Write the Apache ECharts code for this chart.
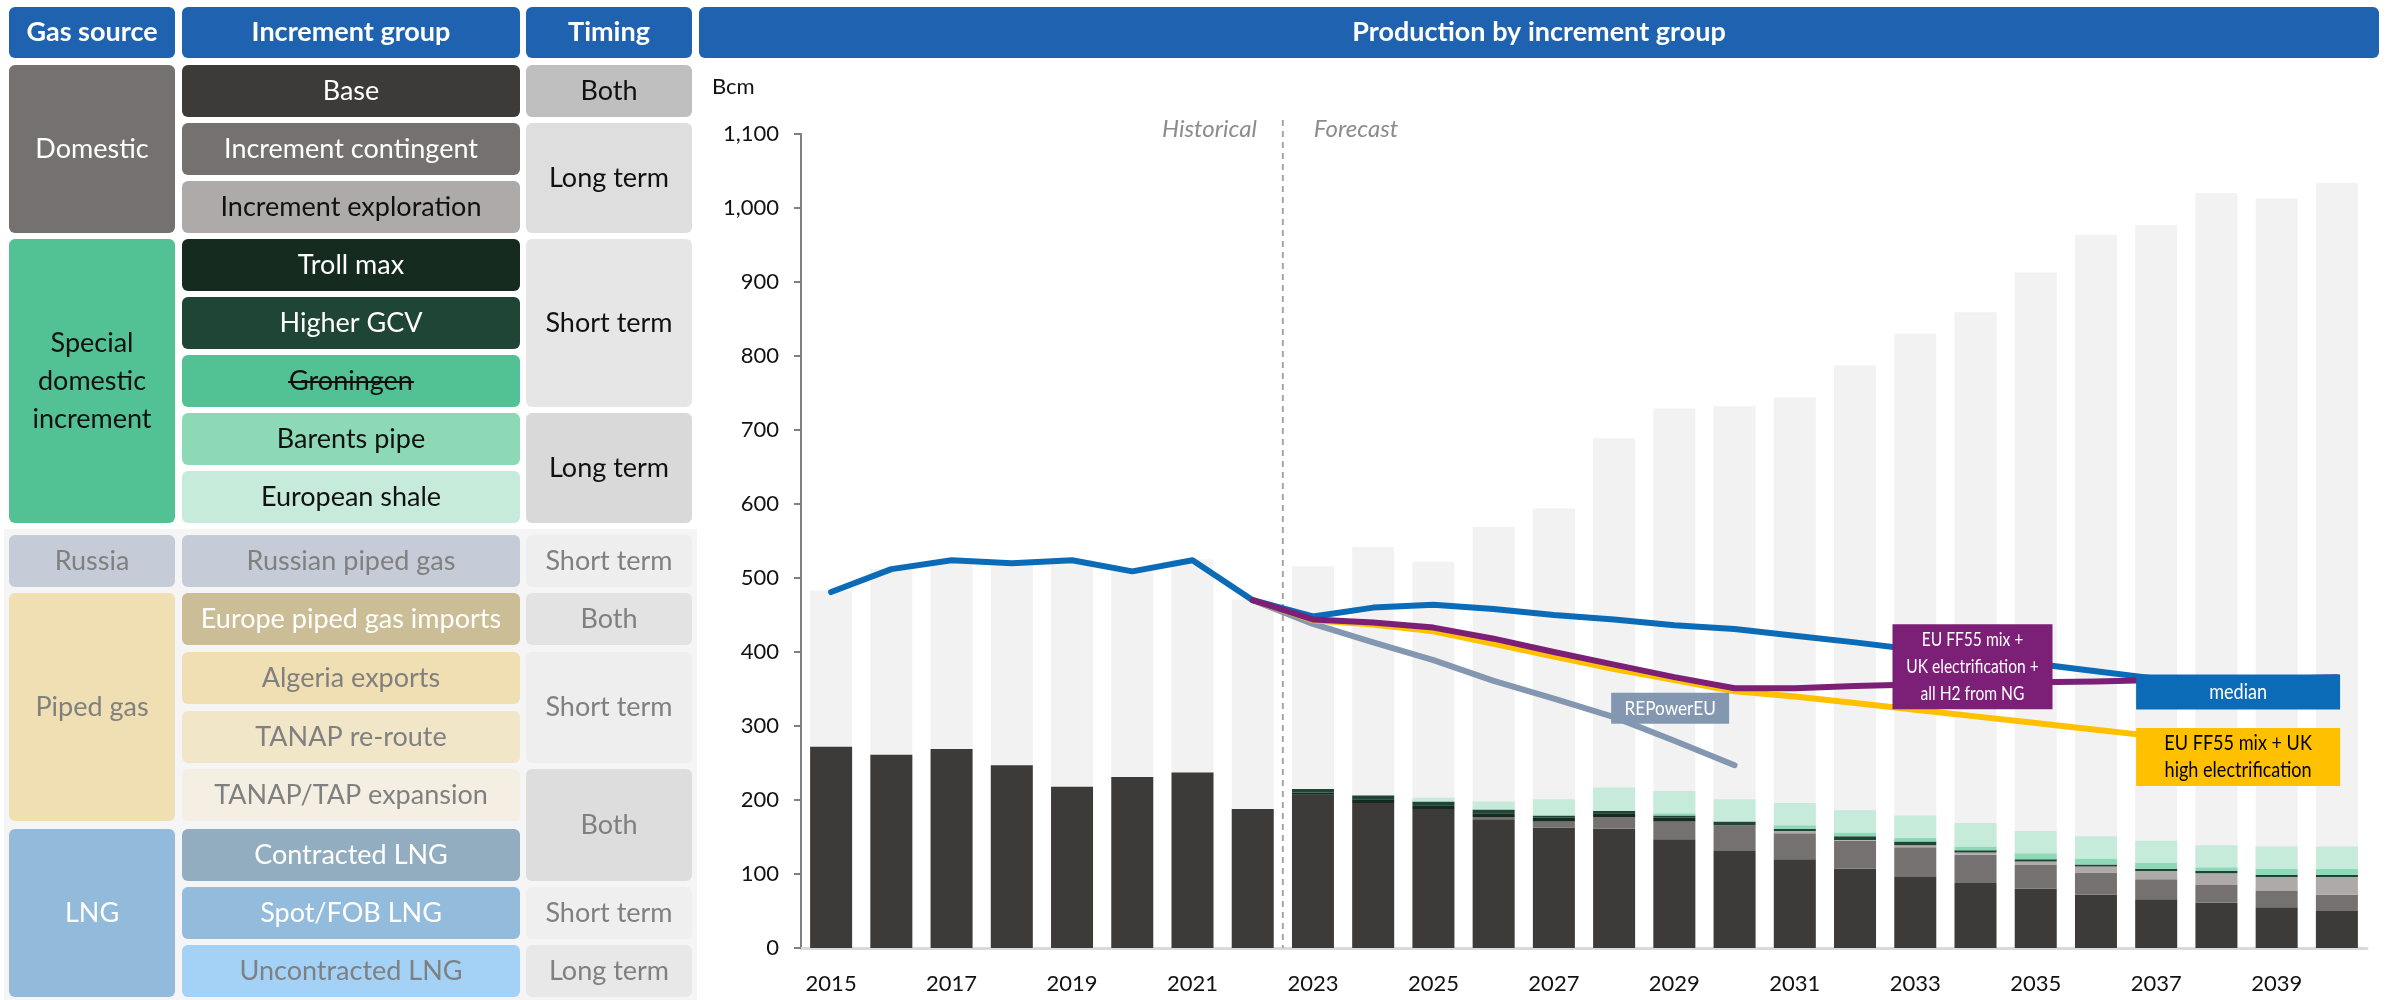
<!DOCTYPE html>
<html><head><meta charset="utf-8">
<script src="https://cdn.jsdelivr.net/npm/echarts@6/dist/echarts.min.js"></script>
<style>html,body{margin:0;padding:0;background:#fff}#c{width:2387px;height:1000px}</style>
</head><body><div id="c"></div>
<script>
// ---------------- DATA ----------------
const years = ['2015','2016','2017','2018','2019','2020','2021','2022','2023','2024','2025','2026','2027','2028','2029','2030','2031','2032','2033','2034','2035','2036','2037','2038','2039','2040'];
const totalSupply    = [483,512,524,520,524,512,525,471,516,542,522,569,594,689,729,732,744,787,830,859,913,964,977,1020,1013,1034];
const base           = [272,261,269,247,218,231,237,188,207,196,188,174,163,161,147,131,120,107,96,88,80,72,66,61,55,50];
const incContingent  = [0,0,0,0,0,0,0,0,0,0,0,3,8,16,24,35,35,38,40,38,32,30,27,24,22,22];
const incExploration = [0,0,0,0,0,0,0,0,0,0,0,0,0,0,0,0,3,1,3,3,5,8,11,16,19,24];
const trollMax       = [0,0,0,0,0,0,0,0,3,5,5,5,5,5,5,0,0,0,0,0,0,0,0,0,0,0];
const higherGCV      = [0,0,0,0,0,0,0,0,5,5,5,5,3,3,3,5,3,5,5,3,3,3,3,3,3,3];
const groningen      = [0,0,0,0,0,0,0,0,0,0,0,0,0,0,0,0,0,0,0,0,0,0,0,0,0,0];
const barentsPipe    = [0,0,0,0,0,0,0,0,0,0,0,0,0,0,3,0,5,5,5,5,8,8,8,5,8,8];
const europeanShale  = [0,0,0,0,0,0,0,0,0,0,5,11,22,32,30,30,30,30,30,32,30,30,30,30,30,30];

const median    = [481,512,524,520,524,509,524,470,448,460,464,458,450,444,436,431,422,413,403,395,384,374,364,357,351,344];
const ff55H2    = [null,null,null,null,null,null,null,470,444,440,433,418,400,383,366,351,351,354,356,357,359,360,362,363,364,366];
const ff55Elec  = [null,null,null,null,null,null,null,470,443,437,428,411,394,377,362,347,340,331,322,313,304,295,286,276,267,258];
const repowerEU = [null,null,null,null,null,null,null,470,438,413,389,361,337,312,280,247,null,null,null,null,null,null,null,null,null,null];

const yTicks = [0,100,200,300,400,500,600,700,800,900,1000,1100];

// Table content
const headers = ['Gas source','Increment group','Timing'];
const sourceCells = [
  [0,2,'Domestic','#767171','#ffffff'],
  [3,7,'Special\ndomestic\nincrement','#52c193','#111111'],
  [8,8,'Russia','#c5ccd7','#808080'],
  [9,12,'Piped gas','#f0dfb3','#808080'],
  [13,15,'LNG','#92bbdb','#ffffff']
];
const groupCells = [
  ['Base','#3c3b39','#ffffff'],
  ['Increment contingent','#767171','#ffffff'],
  ['Increment exploration','#aeaaaa','#111111'],
  ['Troll max','#152b20','#ffffff'],
  ['Higher GCV','#1e4535','#ffffff'],
  ['Groningen','#52c193','#111111'],
  ['Barents pipe','#8dd8b5','#111111'],
  ['European shale','#c6ebdb','#111111'],
  ['Russian piped gas','#c5ccd7','#808080'],
  ['Europe piped gas imports','#cbbd96','#ffffff'],
  ['Algeria exports','#f0dfb3','#808080'],
  ['TANAP re-route','#f2e6c9','#808080'],
  ['TANAP/TAP expansion','#f4efe2','#808080'],
  ['Contracted LNG','#92adc0','#ffffff'],
  ['Spot/FOB LNG','#93bcdc','#ffffff'],
  ['Uncontracted LNG','#a3d2f6','#808080']
];
const timingCells = [
  [0,0,'Both','#bfbfbf','#111111'],
  [1,2,'Long term','#dedede','#111111'],
  [3,5,'Short term','#e6e6e6','#111111'],
  [6,7,'Long term','#d9d9d9','#111111'],
  [8,8,'Short term','#eeeeee','#808080'],
  [9,9,'Both','#e3e3e3','#808080'],
  [10,11,'Short term','#eeeeee','#808080'],
  [12,13,'Both','#dddddd','#808080'],
  [14,14,'Short term','#efefef','#808080'],
  [15,15,'Long term','#e8e8e8','#808080']
];

const annotations = [
  {text:'REPowerEU', idx:13.93, val:324, w:118, h:31, bg:'#8497b0', color:'#ffffff', fs:20, sx:0.86},
  {text:'EU FF55 mix +\nUK electrification +\nall H2 from NG', idx:18.95, val:380, w:160, h:85, bg:'#7b1f77', color:'#ffffff', fs:20, sx:0.78},
  {text:'median', idx:23.36, val:346, w:204, h:35, bg:'#0b6bb7', color:'#ffffff', fs:21, sx:0.86},
  {text:'EU FF55 mix + UK\nhigh electrification', idx:23.36, val:258, w:204, h:58, bg:'#ffc000', color:'#000000', fs:21, sx:0.86}
];

// ---------------- CHART ----------------
const FONT = 'Lato, "Open Sans", sans-serif';
const chart = echarts.init(document.getElementById('c'), null, {renderer:'canvas'});

const stackBar = (name, data, color) => ({
  name, type:'bar', stack:'supply', data, barWidth:42, barGap:'-100%',
  itemStyle:{color}, z:3, emphasis:{disabled:true}
});
const lineS = (name, data, color, z) => ({
  name, type:'line', data, symbol:'none', showSymbol:false, z,
  lineStyle:{width:6, color, cap:'round', join:'round'}, emphasis:{disabled:true}
});

chart.setOption({
  animation:false,
  backgroundColor:'#ffffff',
  textStyle:{fontFamily:FONT},
  grid:{left:801, right:20, top:134, bottom:52, containLabel:false},
  xAxis:{
    type:'category', data:years, boundaryGap:true,
    axisLine:{lineStyle:{color:'#d9d9d9', width:3}},
    axisTick:{show:false},
    axisLabel:{interval:1, color:'#111', fontSize:22, fontFamily:FONT, margin:25}
  },
  yAxis:{
    type:'value', min:0, max:1100, interval:100,
    axisLine:{show:true, lineStyle:{color:'#808080', width:2}},
    axisTick:{show:true, length:7, lineStyle:{color:'#808080', width:2}},
    splitLine:{show:false},
    axisLabel:{color:'#111', fontSize:22, fontFamily:FONT, margin:22,
      formatter:v => yTicks.indexOf(v) >= 0 ? v.toLocaleString('en-US') : ''}
  },
  series:[
    {name:'Total', type:'bar', data:totalSupply, barWidth:42, barGap:'-100%', itemStyle:{color:'#f2f2f2'}, z:2, emphasis:{disabled:true}},
    stackBar('Base', base, '#3c3b39'),
    stackBar('Increment contingent', incContingent, '#767171'),
    stackBar('Increment exploration', incExploration, '#aeaaaa'),
    stackBar('Troll max', trollMax, '#152b20'),
    stackBar('Higher GCV', higherGCV, '#1e4535'),
    stackBar('Groningen', groningen, '#52c193'),
    stackBar('Barents pipe', barentsPipe, '#8dd8b5'),
    stackBar('European shale', europeanShale, '#c6ebdb'),
    lineS('REPowerEU', repowerEU, '#8497b0', 5),
    lineS('EU FF55 mix + UK high electrification', ff55Elec, '#ffc000', 6),
    lineS('median', median, '#0b6bb7', 7),
    lineS('EU FF55 mix + UK electrification + all H2 from NG', ff55H2, '#7b1f77', 8)
  ]
});

// ---------------- GRAPHICS (table, headers, annotations) ----------------
const g = [];
g.push({type:'rect', shape:{x:4, y:529, width:693, height:471}, style:{fill:'#f5f5f5'}, z:0});

const colX = [[9,166],[182,338],[526,166]];
const rowTop = [65,123,181,239,297,355,413,471,535,593,652,711,769,829,887,945];
const RH = 52;
const TFONT = '27px ' + FONT;
const cell = (x,y,w,h,fill,text,color,font,lh) => {
  g.push({type:'rect', shape:{x, y, width:w, height:h, r:6}, style:{fill}, z:1});
  g.push({type:'text', x:x + w/2, y:y + h/2, z:2,
    style:{text, fill:color, font:font || TFONT, align:'center', verticalAlign:'middle', lineHeight:lh || 32}});
};
headers.forEach((t,i) => cell(colX[i][0], 7, colX[i][1], 51, '#1f63b0', t, '#ffffff', 'bold 27px ' + FONT));
cell(699, 7, 1680, 51, '#1f63b0', 'Production by increment group', '#ffffff', 'bold 27px ' + FONT);

const span = (a,b) => [rowTop[a], rowTop[b] + RH - rowTop[a]];
sourceCells.forEach(([a,b,t,f,c]) => { const [y,h] = span(a,b); cell(colX[0][0], y, colX[0][1], h, f, t, c, TFONT, 38); });
groupCells.forEach(([t,f,c],i) => cell(colX[1][0], rowTop[i], colX[1][1], RH, f, t, c));
timingCells.forEach(([a,b,t,f,c]) => { const [y,h] = span(a,b); cell(colX[2][0], y, colX[2][1], h, f, t, c); });

// strikethrough for Groningen
(function(){
  const cv = document.createElement('canvas').getContext('2d');
  cv.font = TFONT;
  const w = cv.measureText('Groningen').width;
  const cx = colX[1][0] + colX[1][1]/2, cy = rowTop[5] + RH/2 + 1;
  g.push({type:'line', shape:{x1:cx - w/2 - 1, y1:cy, x2:cx + w/2 + 1, y2:cy}, style:{stroke:'#111', lineWidth:2}, z:3});
})();

g.push({type:'text', x:712, y:87, style:{text:'Bcm', fill:'#111', font:'22px ' + FONT, align:'left', verticalAlign:'middle'}, z:5});

// pixel helpers from the chart's own scales
const p0 = chart.convertToPixel({gridIndex:0}, [0, 0]);
const p1 = chart.convertToPixel({gridIndex:0}, [1, 0]);
const step = p1[0] - p0[0];
const px = (idx, val) => [p0[0] + idx*step, chart.convertToPixel({gridIndex:0}, [0, val])[1]];

const divX = px(7.5, 0)[0];
const yBottom = px(0, 0)[1];
g.push({type:'line', shape:{x1:divX, y1:120, x2:divX, y2:yBottom}, style:{stroke:'#a6a6a6', lineWidth:2, lineDash:[6,5]}, z:4});
g.push({type:'text', x:divX - 26, y:129, style:{text:'Historical', fill:'#8c8c8c', font:'italic 24px ' + FONT, align:'right', verticalAlign:'middle'}, z:5});
g.push({type:'text', x:divX + 31, y:129, style:{text:'Forecast', fill:'#8c8c8c', font:'italic 24px ' + FONT, align:'left', verticalAlign:'middle'}, z:5});

annotations.forEach(a => {
  const [cx, cy] = px(a.idx, a.val);
  g.push({type:'rect', shape:{x:cx - a.w/2, y:cy - a.h/2, width:a.w, height:a.h}, style:{fill:a.bg}, z:20});
  g.push({type:'text', x:cx, y:cy, z:21, scaleX:a.sx,
    style:{text:a.text, fill:a.color, font:a.fs + 'px ' + FONT, align:'center', verticalAlign:'middle', lineHeight:27}});
});

chart.setOption({graphic:{elements:g}});
</script>
</body></html>
